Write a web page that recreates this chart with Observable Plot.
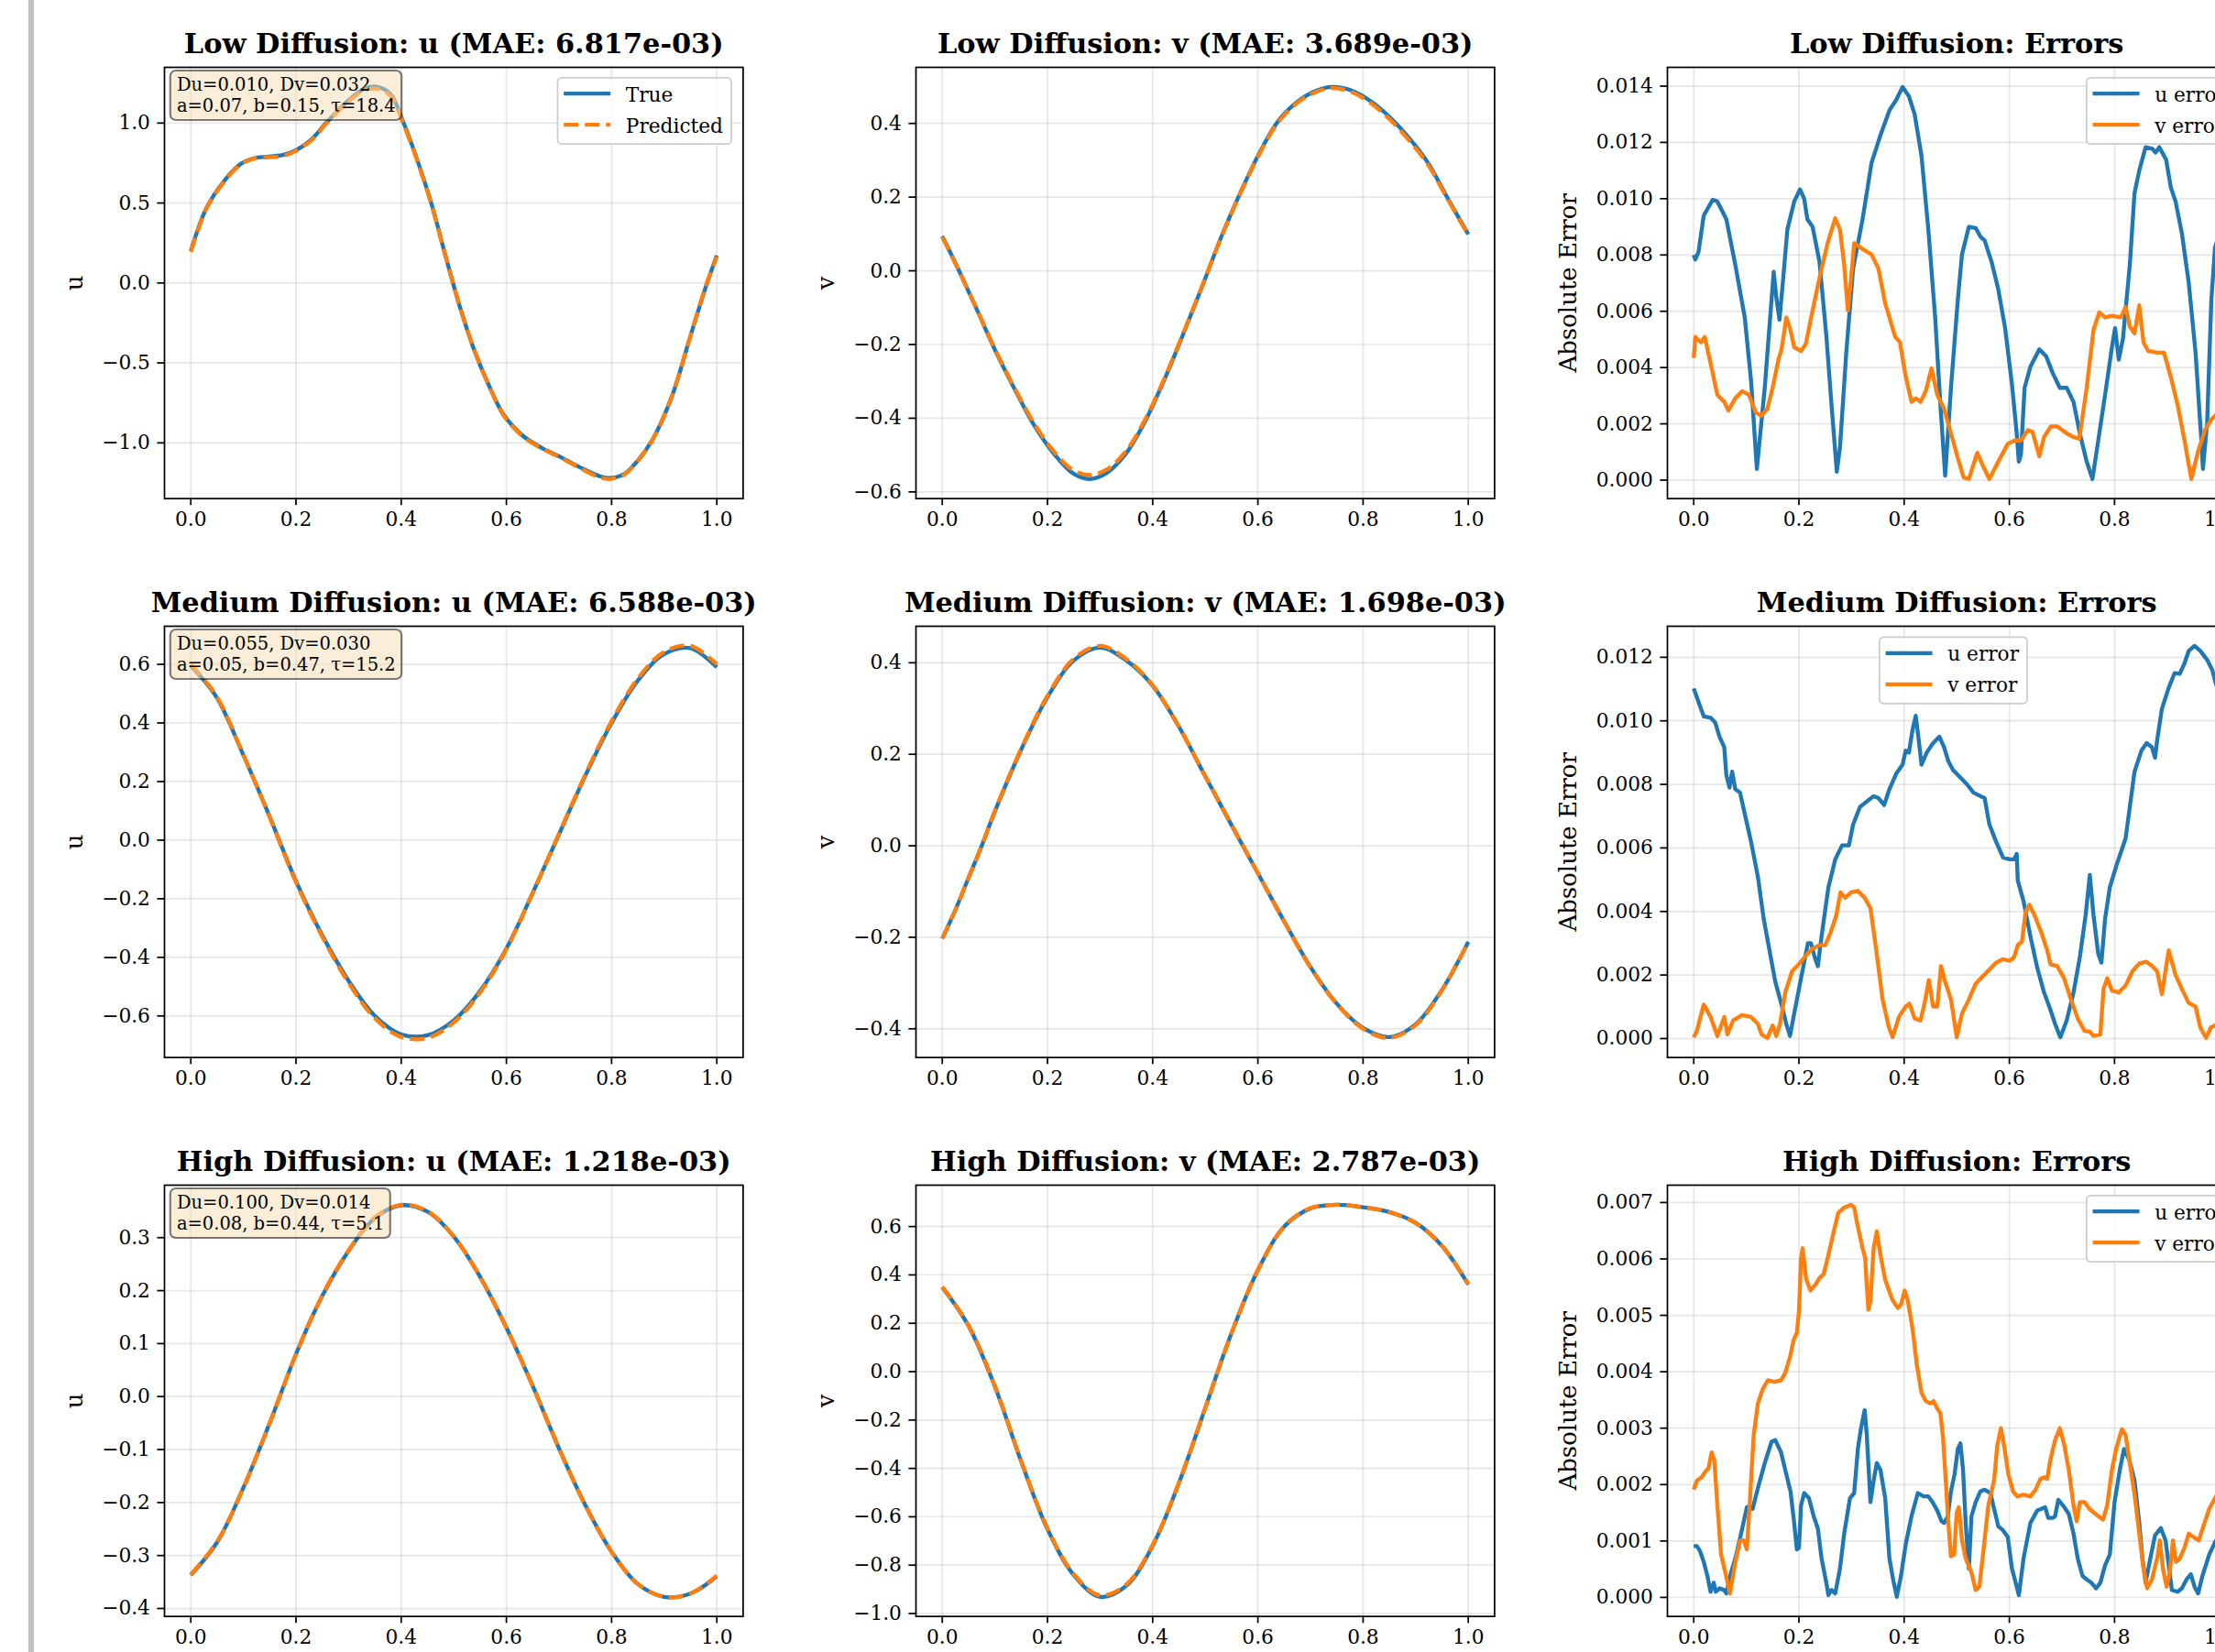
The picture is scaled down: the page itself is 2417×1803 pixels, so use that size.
<!DOCTYPE html>
<html><head><meta charset="utf-8">
<script src="https://cdn.jsdelivr.net/npm/d3@7"></script>
<script src="https://cdn.jsdelivr.net/npm/@observablehq/plot@0.6"></script>
<style>
html,body{margin:0;padding:0;background:#fff;overflow:hidden;}
#fig{position:relative;width:2417px;height:1803px;overflow:hidden;background:#fff;}
#bar{position:absolute;left:31px;top:0;width:6px;height:1803px;background:#c0c0c0;}
</style></head><body><div id="fig"><div id="bar"></div></div>
<script>
// ---------------- DATA ----------------
const xTicks = [0, 0.2, 0.4, 0.6, 0.8, 1.0];

const titles = [
  ["Low Diffusion: u (MAE: 6.817e-03)", "Low Diffusion: v (MAE: 3.689e-03)", "Low Diffusion: Errors"],
  ["Medium Diffusion: u (MAE: 6.588e-03)", "Medium Diffusion: v (MAE: 1.698e-03)", "Medium Diffusion: Errors"],
  ["High Diffusion: u (MAE: 1.218e-03)", "High Diffusion: v (MAE: 2.787e-03)", "High Diffusion: Errors"]
];
const yLabels = ["u", "v", "Absolute Error"];
const notes = [
  ["Du=0.010, Dv=0.032", "a=0.07, b=0.15, τ=18.4"],
  ["Du=0.055, Dv=0.030", "a=0.05, b=0.47, τ=15.2"],
  ["Du=0.100, Dv=0.014", "a=0.08, b=0.44, τ=5.1"]
];
const fieldLegend = ["True", "Predicted"];
const errorLegend = ["u error", "v error"];

const lowUTicks = [-1.0, -0.5, 0.0, 0.5, 1.0];
const lowVTicks = [-0.6, -0.4, -0.2, 0.0, 0.2, 0.4];
const lowErrTicks = [0, 0.002, 0.004, 0.006, 0.008, 0.010, 0.012, 0.014];
const medUTicks = [-0.6, -0.4, -0.2, 0.0, 0.2, 0.4, 0.6];
const medVTicks = [-0.4, -0.2, 0.0, 0.2, 0.4];
const medErrTicks = [0, 0.002, 0.004, 0.006, 0.008, 0.010, 0.012];
const highUTicks = [-0.4, -0.3, -0.2, -0.1, 0.0, 0.1, 0.2, 0.3];
const highVTicks = [-1.0, -0.8, -0.6, -0.4, -0.2, 0.0, 0.2, 0.4, 0.6];
const highErrTicks = [0, 0.001, 0.002, 0.003, 0.004, 0.005, 0.006, 0.007];

// Low diffusion
const lowUTrue = [[0,0.20],[0.03,0.47],[0.065,0.645],[0.095,0.745],[0.12,0.78],[0.175,0.80],[0.2,0.83],[0.23,0.90],[0.257,1.0],[0.294,1.125],[0.33,1.215],[0.355,1.226],[0.38,1.18],[0.403,1.015],[0.43,0.775],[0.458,0.49],[0.485,0.16],[0.513,-0.165],[0.54,-0.43],[0.568,-0.65],[0.595,-0.825],[0.631,-0.955],[0.668,-1.033],[0.704,-1.09],[0.741,-1.155],[0.777,-1.208],[0.796,-1.22],[0.823,-1.197],[0.85,-1.11],[0.878,-0.978],[0.914,-0.715],[0.951,-0.32],[0.978,-0.035],[1,0.173]];
const lowUPred = [[0,0.195],[0.03,0.468],[0.065,0.64],[0.095,0.742],[0.12,0.778],[0.175,0.795],[0.2,0.826],[0.23,0.895],[0.257,0.995],[0.294,1.118],[0.33,1.205],[0.355,1.214],[0.38,1.17],[0.403,1.005],[0.43,0.768],[0.458,0.485],[0.485,0.158],[0.513,-0.162],[0.54,-0.428],[0.568,-0.652],[0.595,-0.83],[0.631,-0.96],[0.668,-1.036],[0.704,-1.094],[0.741,-1.16],[0.777,-1.215],[0.796,-1.226],[0.823,-1.2],[0.85,-1.112],[0.878,-0.98],[0.914,-0.712],[0.951,-0.318],[0.978,-0.03],[1,0.165]];
const lowVTrue = [[0,0.094],[0.029,0.009],[0.066,-0.106],[0.102,-0.22],[0.139,-0.325],[0.175,-0.42],[0.212,-0.496],[0.248,-0.549],[0.28,-0.565],[0.312,-0.549],[0.349,-0.496],[0.385,-0.41],[0.422,-0.296],[0.458,-0.172],[0.495,-0.039],[0.531,0.094],[0.567,0.213],[0.604,0.323],[0.64,0.409],[0.677,0.461],[0.713,0.49],[0.741,0.499],[0.777,0.49],[0.814,0.461],[0.85,0.418],[0.887,0.361],[0.923,0.294],[0.96,0.199],[1,0.099]];
const lowVPred = [[0,0.092],[0.029,0.008],[0.066,-0.105],[0.102,-0.218],[0.139,-0.322],[0.175,-0.415],[0.212,-0.49],[0.248,-0.54],[0.28,-0.554],[0.312,-0.54],[0.349,-0.49],[0.385,-0.405],[0.422,-0.293],[0.458,-0.17],[0.495,-0.038],[0.531,0.093],[0.567,0.211],[0.604,0.32],[0.64,0.406],[0.677,0.458],[0.713,0.487],[0.741,0.496],[0.777,0.486],[0.814,0.456],[0.85,0.412],[0.887,0.355],[0.923,0.289],[0.96,0.196],[1,0.097]];
const lowErrU = [[0,0.0080],[0.003,0.00784],[0.009,0.0081],[0.019,0.0094],[0.036,0.00996],[0.045,0.0099],[0.062,0.00927],[0.079,0.00765],[0.097,0.00578],[0.109,0.00353],[0.12,0.0004],[0.135,0.00328],[0.152,0.0074],[0.157,0.0065],[0.163,0.0057],[0.17,0.00715],[0.178,0.0089],[0.191,0.0099],[0.202,0.01033],[0.21,0.0100],[0.216,0.00927],[0.226,0.009],[0.239,0.00777],[0.252,0.00515],[0.262,0.00266],[0.272,0.0003],[0.278,0.00116],[0.29,0.00453],[0.303,0.00752],[0.321,0.00927],[0.338,0.01127],[0.355,0.01226],[0.372,0.01314],[0.385,0.01351],[0.397,0.01397],[0.409,0.01364],[0.42,0.0130],[0.433,0.01152],[0.446,0.0089],[0.459,0.00578],[0.469,0.00266],[0.478,0.00016],[0.489,0.00328],[0.502,0.0064],[0.51,0.00802],[0.523,0.0090],[0.536,0.00896],[0.545,0.00865],[0.553,0.00852],[0.566,0.00777],[0.579,0.00678],[0.592,0.0054],[0.605,0.0034],[0.614,0.00166],[0.618,0.00066],[0.622,0.0009],[0.629,0.00328],[0.64,0.00403],[0.657,0.00465],[0.67,0.0044],[0.683,0.00378],[0.696,0.00328],[0.709,0.00328],[0.722,0.00278],[0.734,0.00166],[0.747,0.00066],[0.758,0.00004],[0.769,0.00141],[0.782,0.00303],[0.795,0.00472],[0.801,0.0054],[0.808,0.00428],[0.816,0.00503],[0.829,0.00765],[0.838,0.0102],[0.847,0.011],[0.859,0.01183],[0.872,0.01177],[0.878,0.01164],[0.885,0.01183],[0.898,0.01139],[0.907,0.0104],[0.916,0.0099],[0.928,0.00877],[0.941,0.00702],[0.954,0.00453],[0.965,0.00141],[0.968,0.0004],[0.976,0.00203],[0.984,0.0064],[0.991,0.00827],[1,0.0088]];
const lowErrV = [[0,0.00434],[0.003,0.00509],[0.009,0.00497],[0.014,0.0049],[0.021,0.00509],[0.032,0.00415],[0.045,0.00303],[0.058,0.00278],[0.066,0.00247],[0.079,0.00291],[0.092,0.00316],[0.105,0.00303],[0.118,0.00241],[0.128,0.00228],[0.14,0.00253],[0.15,0.00328],[0.161,0.00428],[0.167,0.00465],[0.176,0.00578],[0.183,0.0054],[0.191,0.00472],[0.204,0.00459],[0.213,0.00484],[0.226,0.00603],[0.243,0.00752],[0.256,0.00852],[0.269,0.0093],[0.278,0.0089],[0.286,0.00765],[0.293,0.00603],[0.299,0.00715],[0.305,0.00842],[0.321,0.00821],[0.338,0.00802],[0.351,0.00752],[0.364,0.00628],[0.372,0.00578],[0.383,0.00509],[0.392,0.0049],[0.402,0.00378],[0.414,0.00278],[0.422,0.00291],[0.431,0.00278],[0.441,0.00316],[0.452,0.00397],[0.463,0.00303],[0.476,0.00253],[0.489,0.00166],[0.502,0.00079],[0.513,0.0001],[0.523,0.00004],[0.539,0.00097],[0.549,0.00054],[0.562,0.00004],[0.579,0.00066],[0.597,0.00129],[0.61,0.00141],[0.622,0.00141],[0.635,0.00178],[0.644,0.00172],[0.657,0.00085],[0.666,0.00153],[0.679,0.00191],[0.691,0.00191],[0.709,0.00166],[0.722,0.00153],[0.733,0.00147],[0.747,0.00328],[0.76,0.00534],[0.771,0.00596],[0.782,0.00578],[0.795,0.00584],[0.812,0.00578],[0.821,0.00615],[0.829,0.00546],[0.838,0.00521],[0.847,0.00621],[0.855,0.0049],[0.864,0.00459],[0.881,0.00453],[0.894,0.00453],[0.907,0.00366],[0.92,0.00266],[0.933,0.00141],[0.946,0.00004],[0.959,0.00104],[0.972,0.00178],[0.984,0.00216],[0.991,0.00228],[1,0.0025]];

// Medium diffusion
const medUTrue = [[0,0.595],[0.015,0.566],[0.05,0.485],[0.1,0.29],[0.15,0.08],[0.2,-0.14],[0.25,-0.325],[0.3,-0.48],[0.35,-0.60],[0.4,-0.663],[0.45,-0.666],[0.5,-0.615],[0.55,-0.515],[0.6,-0.37],[0.65,-0.18],[0.7,0.02],[0.75,0.22],[0.8,0.40],[0.85,0.545],[0.9,0.635],[0.95,0.655],[1,0.59]];
const medUPred = [[0,0.60],[0.015,0.57],[0.05,0.488],[0.1,0.291],[0.15,0.078],[0.2,-0.144],[0.25,-0.33],[0.3,-0.487],[0.35,-0.608],[0.4,-0.672],[0.45,-0.675],[0.5,-0.622],[0.55,-0.52],[0.6,-0.372],[0.65,-0.18],[0.7,0.022],[0.75,0.224],[0.8,0.406],[0.85,0.552],[0.9,0.643],[0.95,0.663],[1,0.60]];
const medVTrue = [[0,-0.203],[0.025,-0.14],[0.05,-0.07],[0.075,0.0],[0.1,0.075],[0.15,0.21],[0.2,0.325],[0.25,0.405],[0.3,0.433],[0.35,0.405],[0.4,0.35],[0.45,0.26],[0.5,0.152],[0.55,0.045],[0.6,-0.06],[0.65,-0.165],[0.7,-0.265],[0.75,-0.345],[0.8,-0.398],[0.85,-0.418],[0.9,-0.39],[0.95,-0.315],[1,-0.21]];
const medVPred = [[0,-0.203],[0.025,-0.14],[0.05,-0.07],[0.075,0.0],[0.1,0.076],[0.15,0.212],[0.2,0.328],[0.25,0.409],[0.3,0.437],[0.35,0.408],[0.4,0.351],[0.45,0.26],[0.5,0.152],[0.55,0.046],[0.6,-0.06],[0.65,-0.166],[0.7,-0.266],[0.75,-0.346],[0.8,-0.4],[0.85,-0.42],[0.9,-0.392],[0.95,-0.316],[1,-0.21]];
const medErrU = [[0,0.01102],[0.009,0.0106],[0.019,0.01014],[0.032,0.0101],[0.041,0.00994],[0.049,0.0095],[0.058,0.00917],[0.062,0.00829],[0.068,0.0079],[0.073,0.0084],[0.079,0.00785],[0.088,0.00774],[0.097,0.00707],[0.109,0.00619],[0.122,0.00509],[0.133,0.00377],[0.144,0.00278],[0.155,0.00179],[0.166,0.00112],[0.176,0.00046],[0.183,0.00008],[0.191,0.00079],[0.204,0.0019],[0.217,0.003],[0.223,0.003],[0.23,0.00256],[0.236,0.00228],[0.243,0.00322],[0.256,0.00476],[0.269,0.00564],[0.282,0.00608],[0.295,0.00608],[0.303,0.00674],[0.316,0.00729],[0.329,0.00746],[0.342,0.00763],[0.351,0.00757],[0.362,0.00735],[0.372,0.00785],[0.385,0.00834],[0.397,0.00862],[0.403,0.00906],[0.409,0.009],[0.416,0.00972],[0.422,0.01016],[0.427,0.0095],[0.433,0.00862],[0.443,0.009],[0.454,0.00928],[0.467,0.0095],[0.476,0.00917],[0.484,0.00873],[0.493,0.00845],[0.506,0.00823],[0.519,0.00801],[0.532,0.00774],[0.545,0.00763],[0.553,0.00757],[0.562,0.00674],[0.575,0.00619],[0.588,0.0057],[0.601,0.00564],[0.609,0.00564],[0.614,0.00581],[0.616,0.00498],[0.627,0.00432],[0.64,0.00322],[0.653,0.00223],[0.666,0.00145],[0.677,0.00096],[0.687,0.00046],[0.697,0.00004],[0.709,0.00057],[0.722,0.00145],[0.734,0.00256],[0.745,0.00388],[0.753,0.00515],[0.76,0.00388],[0.769,0.00267],[0.775,0.00239],[0.782,0.00377],[0.791,0.00476],[0.803,0.00542],[0.821,0.0063],[0.829,0.00729],[0.838,0.0084],[0.851,0.00906],[0.861,0.0093],[0.871,0.00917],[0.877,0.00884],[0.881,0.00939],[0.89,0.01038],[0.903,0.01104],[0.914,0.0115],[0.924,0.01148],[0.933,0.01181],[0.941,0.0122],[0.952,0.01236],[0.963,0.0122],[0.976,0.01192],[0.986,0.01159],[0.991,0.01126],[1,0.0108]];
const medErrV = [[0,0.00004],[0.006,0.00024],[0.019,0.00107],[0.032,0.00068],[0.045,0.00008],[0.058,0.00068],[0.064,0.00013],[0.075,0.00057],[0.092,0.00074],[0.109,0.00068],[0.122,0.00046],[0.129,0.00013],[0.14,0.00002],[0.15,0.00041],[0.157,0.00008],[0.164,0.00046],[0.174,0.00145],[0.187,0.00212],[0.2,0.00234],[0.213,0.00261],[0.226,0.00283],[0.239,0.00294],[0.25,0.00294],[0.26,0.00333],[0.271,0.00388],[0.279,0.0046],[0.288,0.00443],[0.299,0.0046],[0.312,0.00465],[0.325,0.00443],[0.336,0.0041],[0.347,0.00278],[0.359,0.00123],[0.371,0.00035],[0.378,0.00004],[0.39,0.00068],[0.403,0.00101],[0.41,0.0011],[0.42,0.00063],[0.431,0.00057],[0.439,0.00112],[0.447,0.00184],[0.455,0.00101],[0.463,0.00101],[0.47,0.00228],[0.478,0.00179],[0.489,0.00123],[0.5,0.00004],[0.51,0.00079],[0.523,0.00123],[0.536,0.00173],[0.549,0.00195],[0.562,0.00217],[0.575,0.00239],[0.588,0.0025],[0.601,0.00245],[0.609,0.00256],[0.616,0.00294],[0.624,0.00305],[0.631,0.00399],[0.638,0.00421],[0.648,0.00388],[0.661,0.00333],[0.672,0.00278],[0.678,0.00234],[0.691,0.00228],[0.704,0.0019],[0.717,0.00123],[0.73,0.00063],[0.743,0.00024],[0.753,0.00022],[0.76,0.00008],[0.773,0.00013],[0.779,0.00156],[0.786,0.0019],[0.795,0.00151],[0.808,0.00145],[0.821,0.00167],[0.834,0.00212],[0.847,0.00236],[0.86,0.00242],[0.872,0.00228],[0.881,0.00212],[0.89,0.0014],[0.903,0.00278],[0.916,0.002],[0.928,0.00156],[0.941,0.00112],[0.954,0.00101],[0.963,0.00035],[0.974,0.00002],[0.983,0.00035],[0.991,0.00041],[1,0.0004]];

// High diffusion
const highUTrue = [[0,-0.337],[0.05,-0.275],[0.1,-0.172],[0.15,-0.05],[0.2,0.08],[0.25,0.19],[0.3,0.275],[0.35,0.337],[0.4,0.361],[0.45,0.349],[0.5,0.302],[0.55,0.226],[0.6,0.13],[0.65,0.02],[0.7,-0.098],[0.75,-0.205],[0.8,-0.293],[0.85,-0.354],[0.9,-0.378],[0.95,-0.372],[1,-0.339]];
const highUPred = [[0,-0.336],[0.05,-0.274],[0.1,-0.172],[0.15,-0.05],[0.2,0.08],[0.25,0.191],[0.3,0.276],[0.35,0.338],[0.4,0.362],[0.45,0.35],[0.5,0.302],[0.55,0.226],[0.6,0.13],[0.65,0.02],[0.7,-0.098],[0.75,-0.205],[0.8,-0.293],[0.85,-0.354],[0.9,-0.378],[0.95,-0.372],[1,-0.338]];
const highVTrue = [[0,0.349],[0.05,0.189],[0.1,-0.061],[0.15,-0.371],[0.2,-0.651],[0.25,-0.841],[0.3,-0.931],[0.35,-0.885],[0.4,-0.72],[0.45,-0.46],[0.5,-0.15],[0.55,0.16],[0.6,0.42],[0.65,0.6],[0.7,0.675],[0.75,0.69],[0.8,0.68],[0.85,0.66],[0.9,0.615],[0.95,0.52],[1,0.36]];
const highVPred = [[0,0.351],[0.05,0.191],[0.1,-0.059],[0.15,-0.369],[0.2,-0.648],[0.25,-0.837],[0.3,-0.925],[0.35,-0.88],[0.4,-0.716],[0.45,-0.458],[0.5,-0.15],[0.55,0.16],[0.6,0.42],[0.65,0.6],[0.7,0.676],[0.75,0.69],[0.8,0.68],[0.85,0.66],[0.9,0.614],[0.95,0.52],[1,0.362]];
const highErrU = [[0,0.00091],[0.006,0.00091],[0.012,0.00082],[0.019,0.00063],[0.026,0.00038],[0.032,0.0001],[0.038,0.00026],[0.042,0.0001],[0.049,0.00016],[0.058,0.00013],[0.062,0.00007],[0.071,0.00044],[0.079,0.00069],[0.09,0.00113],[0.101,0.0016],[0.112,0.00157],[0.122,0.00194],[0.135,0.00238],[0.148,0.00276],[0.155,0.00279],[0.166,0.00257],[0.174,0.00226],[0.184,0.00188],[0.191,0.00132],[0.196,0.00085],[0.2,0.00088],[0.204,0.00163],[0.21,0.00185],[0.219,0.00176],[0.228,0.00144],[0.236,0.00122],[0.243,0.00069],[0.252,0.00026],[0.256,0.00004],[0.262,0.00013],[0.269,0.00007],[0.278,0.00051],[0.286,0.00113],[0.297,0.00176],[0.305,0.00185],[0.312,0.00263],[0.318,0.003],[0.325,0.00332],[0.329,0.00288],[0.336,0.00169],[0.342,0.00207],[0.348,0.00238],[0.355,0.00226],[0.364,0.00176],[0.372,0.00069],[0.379,0.00032],[0.386,0.00001],[0.394,0.00038],[0.403,0.00094],[0.414,0.00144],[0.426,0.00185],[0.437,0.00179],[0.446,0.00179],[0.454,0.00169],[0.463,0.00154],[0.471,0.00135],[0.476,0.00132],[0.483,0.00144],[0.489,0.00188],[0.496,0.00219],[0.502,0.00263],[0.507,0.00273],[0.512,0.00226],[0.517,0.00132],[0.523,0.00051],[0.528,0.00144],[0.536,0.00169],[0.545,0.00188],[0.553,0.00191],[0.564,0.00185],[0.571,0.00157],[0.579,0.00126],[0.588,0.00119],[0.597,0.00107],[0.605,0.00051],[0.614,0.00019],[0.618,0.00004],[0.627,0.00069],[0.64,0.00132],[0.653,0.00154],[0.661,0.00157],[0.668,0.0016],[0.674,0.00141],[0.683,0.00141],[0.687,0.00144],[0.693,0.00173],[0.702,0.00163],[0.713,0.00148],[0.722,0.00113],[0.73,0.00069],[0.739,0.00038],[0.747,0.00032],[0.756,0.00026],[0.765,0.00016],[0.773,0.00026],[0.782,0.00057],[0.791,0.00076],[0.8,0.00169],[0.81,0.00226],[0.818,0.00263],[0.828,0.00244],[0.838,0.00207],[0.847,0.00132],[0.853,0.00069],[0.859,0.00026],[0.868,0.00069],[0.877,0.0011],[0.888,0.00123],[0.897,0.00101],[0.903,0.00057],[0.909,0.00013],[0.92,0.0001],[0.928,0.00016],[0.937,0.00032],[0.945,0.00041],[0.952,0.00019],[0.959,0.00007],[0.967,0.00038],[0.98,0.00076],[0.991,0.00098],[1,0.0011]];
const highErrV = [[0,0.00191],[0.006,0.00207],[0.015,0.00213],[0.022,0.00223],[0.028,0.00229],[0.034,0.00257],[0.039,0.00244],[0.045,0.00163],[0.052,0.00076],[0.06,0.00044],[0.069,0.00007],[0.078,0.00057],[0.088,0.00101],[0.095,0.00101],[0.101,0.00085],[0.107,0.00176],[0.114,0.00288],[0.122,0.00344],[0.131,0.00369],[0.141,0.00385],[0.153,0.00382],[0.166,0.00385],[0.174,0.00398],[0.183,0.00426],[0.19,0.00457],[0.196,0.00469],[0.2,0.00507],[0.204,0.00601],[0.207,0.00619],[0.214,0.00563],[0.222,0.00544],[0.231,0.00554],[0.239,0.00566],[0.247,0.00573],[0.256,0.00607],[0.266,0.00648],[0.275,0.00682],[0.286,0.00691],[0.299,0.00696],[0.305,0.00691],[0.312,0.00657],[0.321,0.00619],[0.326,0.00601],[0.329,0.00551],[0.332,0.0051],[0.336,0.00526],[0.342,0.00619],[0.348,0.00649],[0.355,0.00607],[0.364,0.00563],[0.377,0.00529],[0.388,0.00513],[0.394,0.00519],[0.401,0.00544],[0.407,0.00526],[0.416,0.00476],[0.424,0.00413],[0.433,0.00363],[0.441,0.00348],[0.45,0.00344],[0.456,0.00348],[0.463,0.00335],[0.469,0.00326],[0.474,0.00282],[0.48,0.00194],[0.484,0.00132],[0.489,0.00073],[0.495,0.00076],[0.5,0.00151],[0.504,0.0016],[0.51,0.00101],[0.517,0.00069],[0.528,0.00044],[0.536,0.00013],[0.543,0.00019],[0.552,0.00094],[0.56,0.00163],[0.571,0.00207],[0.577,0.00269],[0.584,0.003],[0.59,0.00269],[0.598,0.00219],[0.607,0.00188],[0.615,0.00179],[0.627,0.00182],[0.64,0.00179],[0.65,0.00191],[0.659,0.0021],[0.667,0.00213],[0.672,0.0021],[0.678,0.00244],[0.687,0.00279],[0.696,0.003],[0.704,0.00272],[0.713,0.00226],[0.722,0.00163],[0.728,0.00135],[0.734,0.00169],[0.743,0.00169],[0.752,0.00157],[0.76,0.00151],[0.769,0.00144],[0.778,0.00138],[0.786,0.00163],[0.795,0.00226],[0.803,0.00263],[0.814,0.00298],[0.821,0.00288],[0.829,0.00238],[0.838,0.00182],[0.847,0.00113],[0.855,0.00051],[0.862,0.00016],[0.871,0.00032],[0.881,0.00069],[0.886,0.00101],[0.892,0.00051],[0.899,0.00019],[0.905,0.00044],[0.911,0.00101],[0.917,0.00063],[0.924,0.00069],[0.933,0.00088],[0.941,0.00113],[0.95,0.00107],[0.96,0.00101],[0.971,0.00132],[0.98,0.00157],[0.991,0.00176],[1,0.0019]];

// ---------------- LAYOUT / STYLE ----------------
const FONT = "DejaVu Serif";
const BLUE = "#1f77b4", ORANGE = "#ff7f0e";
const PW = 631.4, PH = 470.7;
const colLeft = [179.3, 999.4, 1819.4];
const rowTop = [72.7, 683.3, 1293.3];
const ML = 170, MT = 70, MR = 30, MB = 60;
const LW = 4.34, SW = 1.74;
const fig = document.getElementById("fig");

const mctx = document.createElement("canvas").getContext("2d");
function textWidth(s, size, weight = "normal") {
  mctx.font = `${weight} ${size}px "${FONT}"`;
  return mctx.measureText(s).width;
}

function noteMark(lines) {
  return (index, scales, values, dims) => {
    const fs = 19.5;
    const tw = d3.max(lines, s => textWidth(s, fs));
    const x0 = dims.marginLeft + 6.8, y0 = dims.marginTop + 4;
    const g = d3.create("svg:g");
    g.append("rect").attr("x", x0).attr("y", y0).attr("width", tw + 13.4).attr("height", 54)
      .attr("rx", 6).attr("fill", "#f5deb3").attr("fill-opacity", 0.5)
      .attr("stroke", "#000").attr("stroke-opacity", 0.5).attr("stroke-width", 2.2);
    return g.node();
  };
}

function legendMark(items, place) {
  return (index, scales, values, dims) => {
    const fs = 21.7;
    const tw = d3.max(items, it => textWidth(it.label, fs));
    const W = 74.3 + tw + 9, H = 72.4;
    const x0 = place === "center" ? dims.marginLeft + 231.9 : dims.width - dims.marginRight - 12.4 - W;
    const y0 = dims.marginTop + (place === "center" ? 12.4 : 11.8);
    const g = d3.create("svg:g");
    g.append("rect").attr("x", x0).attr("y", y0).attr("width", W).attr("height", H)
      .attr("rx", 4.5).attr("fill", "#fff").attr("fill-opacity", 0.8)
      .attr("stroke", "#cccccc").attr("stroke-width", SW);
    items.forEach((it, i) => {
      const yy = y0 + 17.4 + i * 34;
      g.append("line").attr("x1", x0 + 6.7).attr("x2", x0 + 57.7).attr("y1", yy).attr("y2", yy)
        .attr("stroke", it.color).attr("stroke-width", LW).attr("stroke-dasharray", it.dash || null);
      g.append("text").attr("x", x0 + 74.3).attr("y", yy + 8.6).attr("text-anchor", "start")
        .attr("font-family", FONT).attr("font-size", fs).attr("fill", "#000").text(it.label);
    });
    return g.node();
  };
}

function panel(row, col, opts) {
  const {series, yTicks, yFmt, legend, legendPlace, note, curve} = opts;
  const all = series.flatMap(s => s.data.map(d => d[1]));
  const lo = d3.min(all), hi = d3.max(all), pad = 0.05 * (hi - lo);
  const marks = [
    Plot.gridX(xTicks, {stroke: "#b0b0b0", strokeOpacity: 0.3, strokeWidth: SW}),
    Plot.gridY(yTicks, {stroke: "#b0b0b0", strokeOpacity: 0.3, strokeWidth: SW}),
    ...series.map(s => Plot.line(s.data, {x: d => d[0], y: d => d[1], stroke: s.color, strokeWidth: LW,
      strokeDasharray: s.dash, strokeLinecap: "butt", strokeLinejoin: "round", curve: curve})),
  ];
  if (note) {
    marks.push(noteMark(note));
    marks.push(Plot.text([note[0]], {text: d => d, frameAnchor: "top-left", dx: 13.4, dy: 25.6, lineAnchor: "bottom", textAnchor: "start", fontSize: 19.5, fill: "#000"}));
    marks.push(Plot.text([note[1]], {text: d => d, frameAnchor: "top-left", dx: 13.4, dy: 48.3, lineAnchor: "bottom", textAnchor: "start", fontSize: 19.5, fill: "#000"}));
  }
  if (legend) marks.push(legendMark(legend, legendPlace));
  marks.push(
    Plot.frame({stroke: "#000", strokeWidth: SW}),
    Plot.axisX(xTicks, {tickSize: 7.6, tickPadding: 7, strokeWidth: SW, fontSize: 21.7, tickFormat: d3.format(".1f"), label: null, color: "#000"}),
    Plot.axisY(yTicks, {tickSize: 7.6, tickPadding: 8, strokeWidth: SW, fontSize: 21.7, tickFormat: d3.format(yFmt), label: null, color: "#000"}),
    Plot.text([titles[row][col]], {text: d => d, frameAnchor: "top", dy: -15, lineAnchor: "bottom", fontSize: 30.4, fontWeight: "bold", fill: "#000"}),
    Plot.text([yLabels[col]], {text: d => d, frameAnchor: "left", dx: col === 2 ? -100 : -89.5, rotate: -90, lineAnchor: "bottom", textAnchor: "middle", fontSize: 26, fill: "#000"})
  );
  const svg = Plot.plot({
    width: PW + ML + MR, height: PH + MT + MB,
    marginLeft: ML, marginTop: MT, marginRight: MR, marginBottom: MB,
    x: {domain: [-0.05, 1.05]},
    y: {domain: [lo - pad, hi + pad]},
    style: {fontFamily: FONT, fontSize: "21.7px", color: "#000", background: "transparent", overflow: "visible"},
    marks
  });
  svg.style.position = "absolute";
  svg.style.left = (colLeft[col] - ML) + "px";
  svg.style.top = (rowTop[row] - MT) + "px";
  fig.appendChild(svg);
}

const fieldItems = [{label: fieldLegend[0], color: BLUE}, {label: fieldLegend[1], color: ORANGE, dash: "16,7"}];
const errItems = [{label: errorLegend[0], color: BLUE}, {label: errorLegend[1], color: ORANGE}];
const field = (t, p) => [{data: t, color: BLUE}, {data: p, color: ORANGE, dash: "16,7"}];
const errs = (u, v) => [{data: u, color: BLUE}, {data: v, color: ORANGE}];

panel(0, 0, {series: field(lowUTrue, lowUPred), yTicks: lowUTicks, yFmt: ".1f", legend: fieldItems, legendPlace: "right", note: notes[0], curve: "catmull-rom"});
panel(0, 1, {series: field(lowVTrue, lowVPred), yTicks: lowVTicks, yFmt: ".1f", curve: "catmull-rom"});
panel(0, 2, {series: errs(lowErrU, lowErrV), yTicks: lowErrTicks, yFmt: ".3f", legend: errItems, legendPlace: "right", curve: "linear"});
panel(1, 0, {series: field(medUTrue, medUPred), yTicks: medUTicks, yFmt: ".1f", note: notes[1], curve: "catmull-rom"});
panel(1, 1, {series: field(medVTrue, medVPred), yTicks: medVTicks, yFmt: ".1f", curve: "catmull-rom"});
panel(1, 2, {series: errs(medErrU, medErrV), yTicks: medErrTicks, yFmt: ".3f", legend: errItems, legendPlace: "center", curve: "linear"});
panel(2, 0, {series: field(highUTrue, highUPred), yTicks: highUTicks, yFmt: ".1f", note: notes[2], curve: "catmull-rom"});
panel(2, 1, {series: field(highVTrue, highVPred), yTicks: highVTicks, yFmt: ".1f", curve: "catmull-rom"});
panel(2, 2, {series: errs(highErrU, highErrV), yTicks: highErrTicks, yFmt: ".3f", legend: errItems, legendPlace: "right", curve: "linear"});
</script></body></html>
